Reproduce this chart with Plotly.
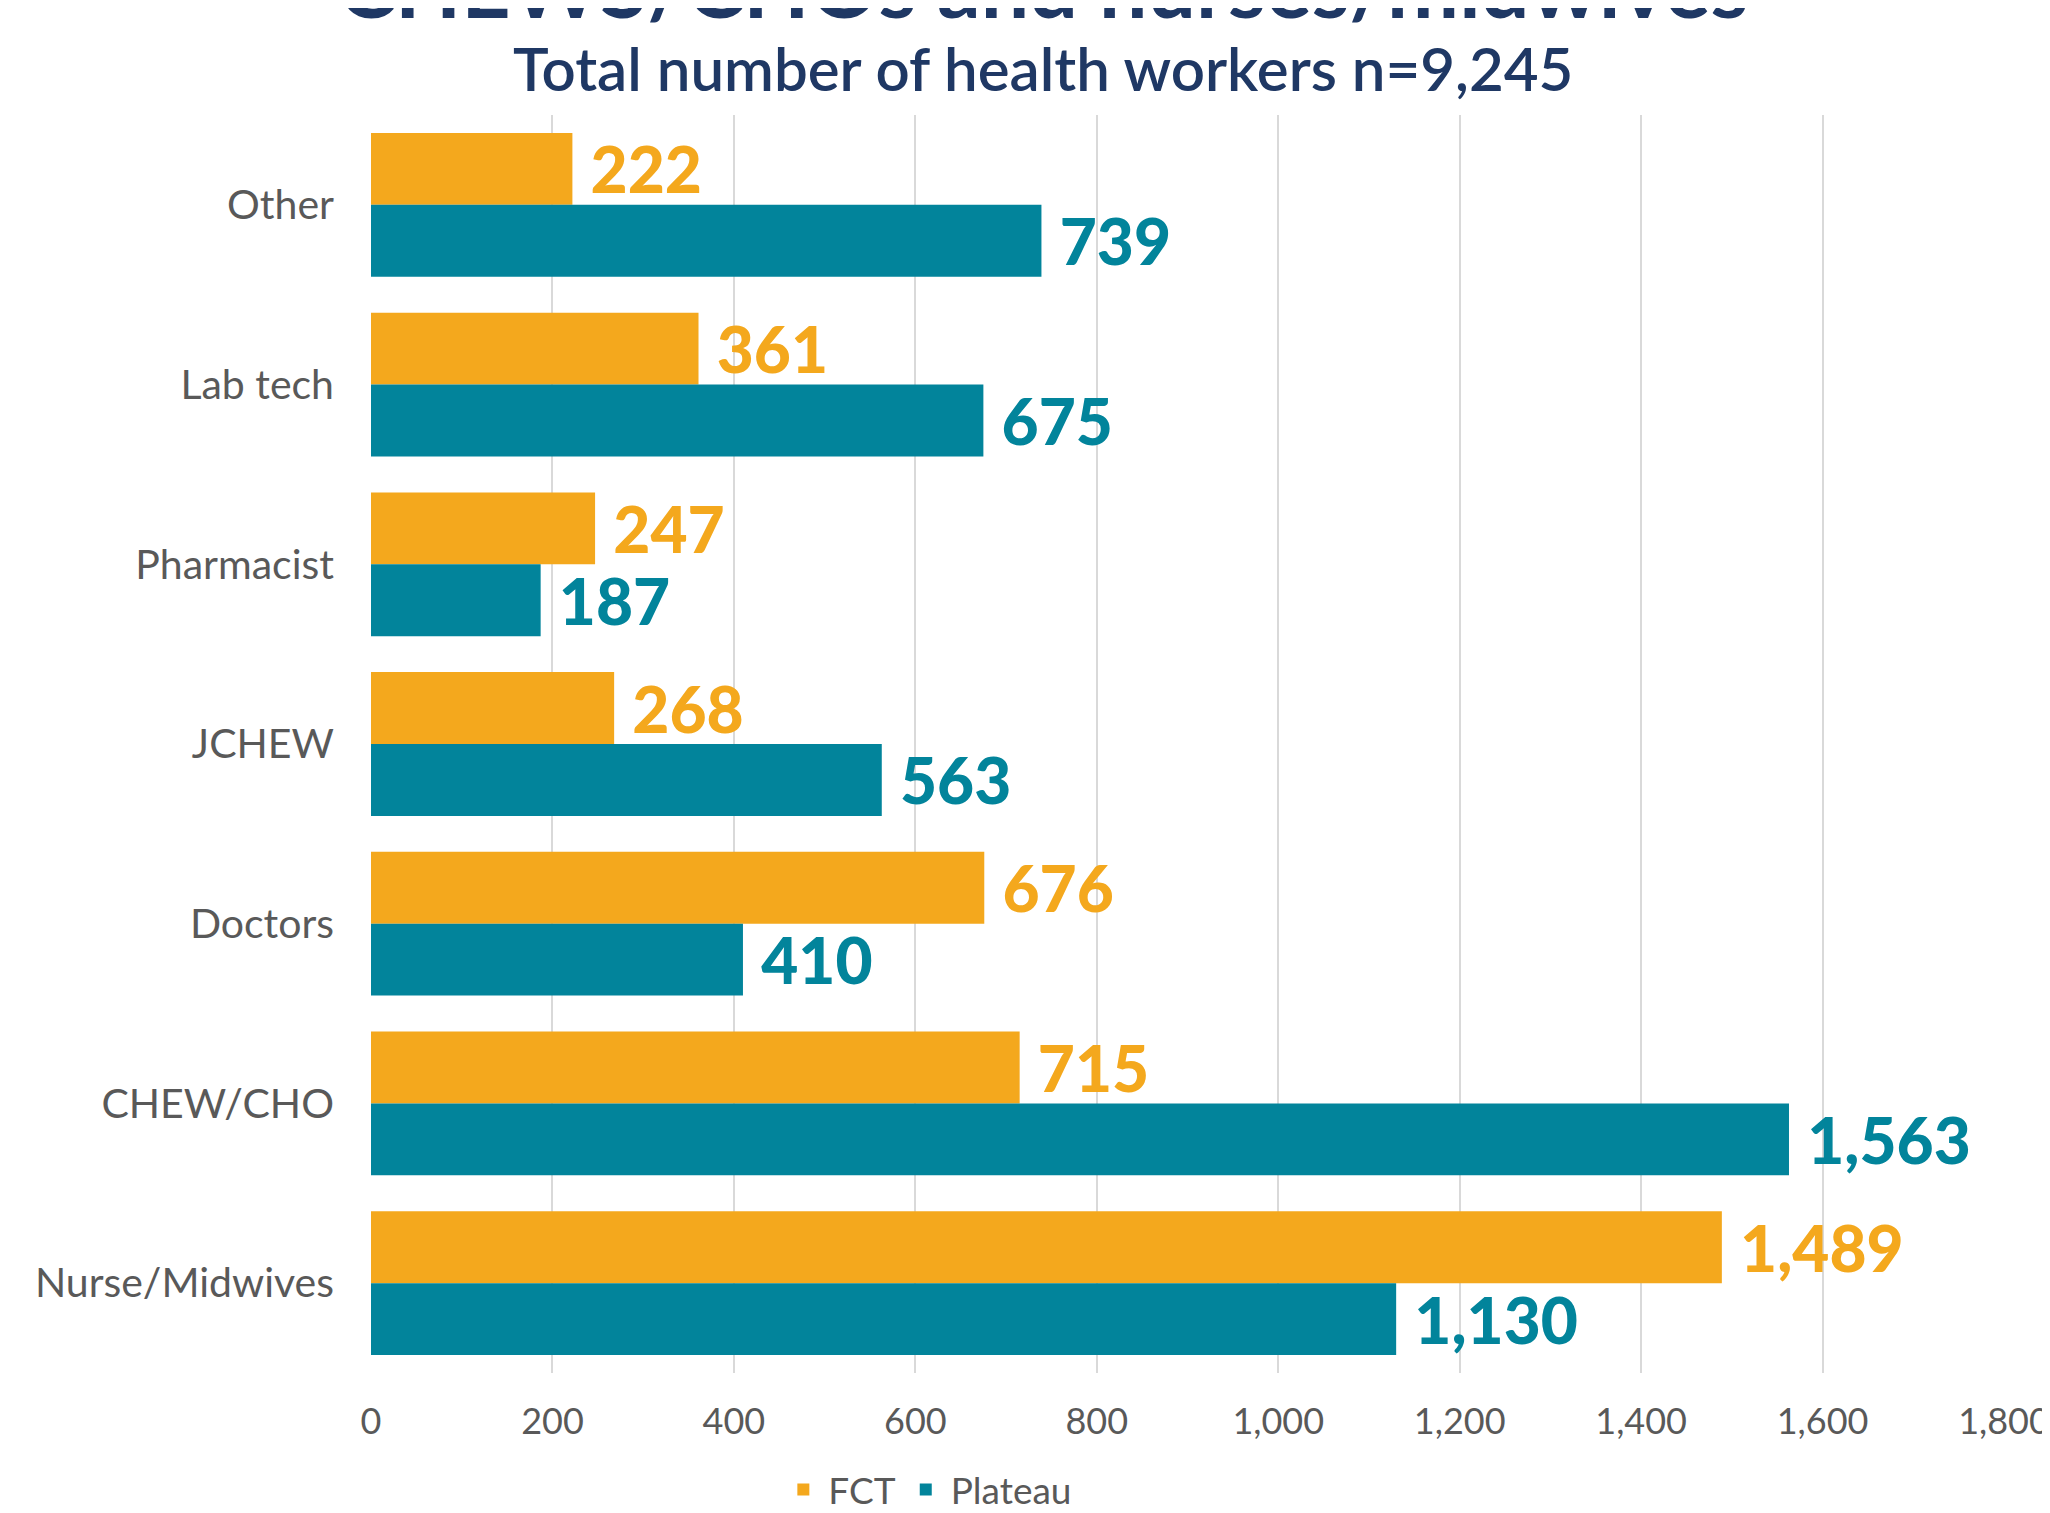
import plotly.graph_objects as go

categories = ["Other", "Lab tech", "Pharmacist", "JCHEW", "Doctors", "CHEW/CHO", "Nurse/Midwives"]
fct = [222, 361, 247, 268, 676, 715, 1489]
plateau = [739, 675, 187, 563, 410, 1563, 1130]
x_ticks = [0, 200, 400, 600, 800, 1000, 1200, 1400, 1600, 1800]
x_tick_labels = ["0", "200", "400", "600", "800", "1,000", "1,200", "1,400", "1,600", "1,800"]

ORANGE = "#F4A81D"
TEAL = "#02849B"
NAVY = "#1F3864"
GRAY = "#595959"
FONT = "Lato"

fig = go.Figure()
for name, vals, col in [("FCT", fct, ORANGE), ("Plateau", plateau, TEAL)]:
    fig.add_trace(go.Bar(
        y=categories, x=vals, name=name, orientation="h",
        marker=dict(color=col, line=dict(width=0)),
        text=vals, texttemplate="\u00a0%{x:,}", textposition="outside",
        textfont=dict(family=FONT, size=64, color=col, weight=900),
        constraintext="none", cliponaxis=False,
    ))

fig.update_layout(
    width=2042, height=1505,
    margin=dict(l=363, r=46, t=107, b=140, autoexpand=False),
    paper_bgcolor="white", plot_bgcolor="white",
    barmode="group", bargap=0.2, bargroupgap=0,
    font=dict(family=FONT, color=GRAY),
    showlegend=True,
    legend=dict(orientation="h", x=0.341, xanchor="center", y=-0.093, yanchor="middle",
                font=dict(family=FONT, size=37, color=GRAY), traceorder="normal",
                itemwidth=40),
    xaxis=dict(range=[0, 1800], tickvals=x_ticks, ticktext=x_tick_labels,
               showgrid=True, gridcolor="#D9D9D9", gridwidth=2,
               zeroline=False, showline=False, ticks="", automargin=False,
               tickfont=dict(family=FONT, size=36, color=GRAY),
               ticklabelstandoff=24),
    yaxis=dict(categoryorder="array", categoryarray=categories, autorange="reversed",
               showgrid=False, zeroline=False, showline=False, ticks="", automargin=False,
               tickfont=dict(family=FONT, size=41, color=GRAY),
               ticklabelstandoff=36),
)

fig.add_annotation(text="CHEWS/CHOs and nurses/midwives", xref="paper", yref="paper",
                   x=0.4115, y=1.104, xanchor="center", yanchor="middle", showarrow=False,
                   font=dict(family=FONT, size=86, color=NAVY, weight="bold"))
fig.add_annotation(text="Total number of health workers n=9,245", xref="paper", yref="paper",
                   x=0.4115, y=1.037, xanchor="center", yanchor="middle", showarrow=False,
                   font=dict(family=FONT, size=60, color=NAVY, weight=600))

fig.write_html("out.html")
